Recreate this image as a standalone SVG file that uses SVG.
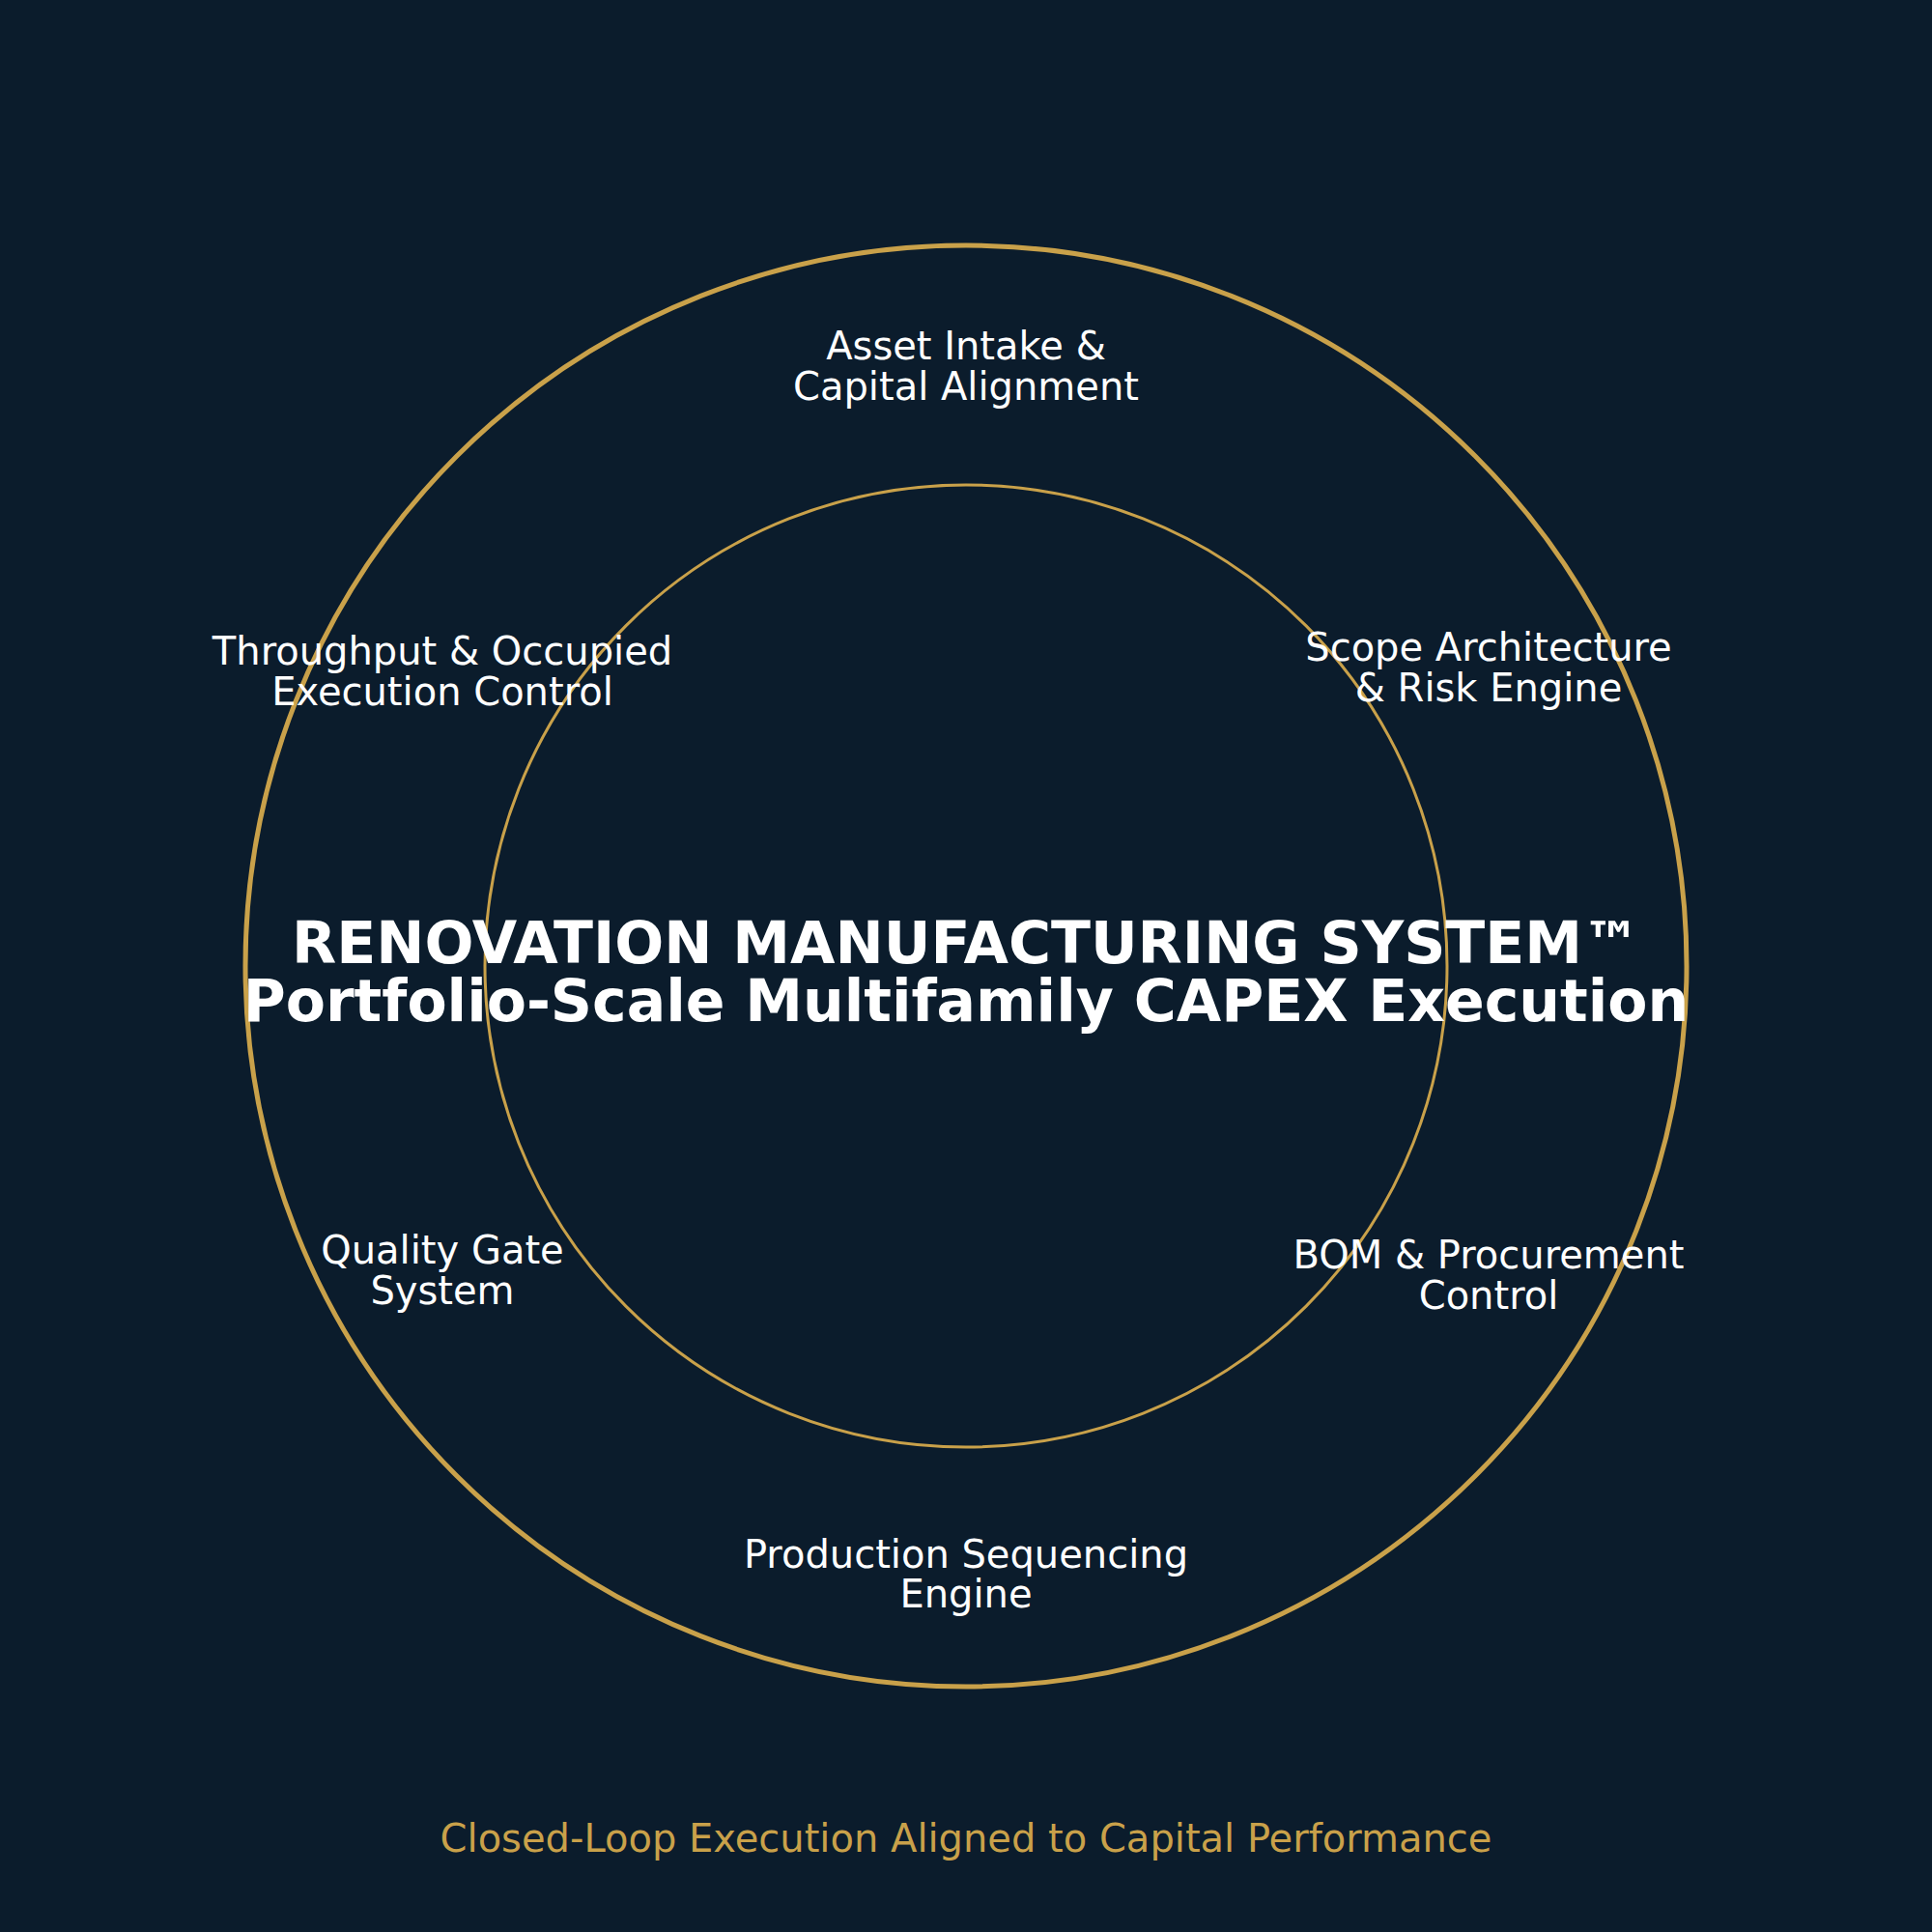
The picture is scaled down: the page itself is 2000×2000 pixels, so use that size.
<svg xmlns="http://www.w3.org/2000/svg" width="2000" height="2000" viewBox="0 0 2000 2000">
<style>
.ring{fill:none;stroke:#c9a14a}
.lbl{font-family:"DejaVu Sans",sans-serif;font-size:40px;fill:#ffffff;text-anchor:middle}
.title{font-family:"DejaVu Sans",sans-serif;font-size:60px;font-weight:bold;fill:#ffffff;text-anchor:middle}
.foot{font-family:"DejaVu Sans",sans-serif;font-size:40px;fill:#c9a14a;text-anchor:middle}
</style>
<rect x="0" y="0" width="2000" height="2000" fill="#0b1c2c"/>
<g id="rings">
<circle class="ring" cx="1000" cy="1000" r="746" stroke-width="5"/>
<circle class="ring" cx="1000" cy="1000" r="498" stroke-width="3"/>
</g>
<g id="connectors"></g>
<g id="center">
<text class="title" x="1000" y="997">RENOVATION MANUFACTURING SYSTEM™</text>
<text class="title" x="1000" y="1057">Portfolio-Scale Multifamily CAPEX Execution</text>
</g>
<g id="node-asset-intake"><text class="lbl" x="1000" y="372">Asset Intake &amp;</text><text class="lbl" x="1000" y="414">Capital Alignment</text></g>
<g id="node-scope"><text class="lbl" x="1541" y="684">Scope Architecture</text><text class="lbl" x="1541" y="726">&amp; Risk Engine</text></g>
<g id="node-bom"><text class="lbl" x="1541" y="1313">BOM &amp; Procurement</text><text class="lbl" x="1541" y="1355">Control</text></g>
<g id="node-production"><text class="lbl" x="1000" y="1623">Production Sequencing</text><text class="lbl" x="1000" y="1664">Engine</text></g>
<g id="node-quality"><text class="lbl" x="458" y="1308">Quality Gate</text><text class="lbl" x="458" y="1350">System</text></g>
<g id="node-throughput"><text class="lbl" x="458" y="688">Throughput &amp; Occupied</text><text class="lbl" x="458" y="730">Execution Control</text></g>
<text class="foot" x="1000" y="1917">Closed-Loop Execution Aligned to Capital Performance</text>
</svg>
